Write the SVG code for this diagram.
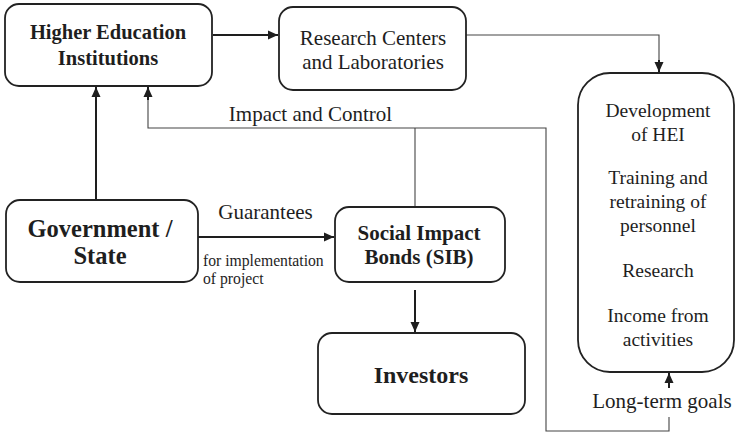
<svg xmlns="http://www.w3.org/2000/svg" width="736" height="434" viewBox="0 0 736 434">
  <style>
    .box { fill: #fff; stroke: #222; stroke-width: 1.8; }
    .t { font-family: "Liberation Serif", "Times New Roman", serif; fill: #1e1e1e; text-anchor: middle; }
    .s { text-anchor: start; }
    .b { font-weight: bold; }
    .thick { fill: none; stroke: #1e1e1e; stroke-width: 2; }
    .thin { fill: none; stroke: #444; stroke-width: 1.1; }
  </style>
  <defs>
    <marker id="arr" viewBox="0 0 10 10" refX="10" refY="5" markerWidth="10" markerHeight="10" markerUnits="userSpaceOnUse" orient="auto">
      <path d="M0,0.5 L10,5 L0,9.5 Z" fill="#1e1e1e"/>
    </marker>
  </defs>
  <rect width="736" height="434" fill="#fff"/>

  <g id="connectors">
    <line class="thick" x1="213" y1="35" x2="278" y2="35" marker-end="url(#arr)"/>
    <polyline class="thin" points="466,35 659,35 659,62"/>
    <line class="thick" x1="659" y1="60" x2="659" y2="72" marker-end="url(#arr)"/>
    <line class="thick" x1="96" y1="200" x2="96" y2="87" marker-end="url(#arr)"/>
    <polyline class="thin" points="669,417 669,431 546,431 546,128 148,128 148,98"/>
    <line class="thick" x1="148" y1="100" x2="148" y2="87" marker-end="url(#arr)"/>
    <line class="thin" x1="415" y1="207" x2="415" y2="128"/>
    <line class="thick" x1="198" y1="237" x2="334" y2="237" marker-end="url(#arr)"/>
    <line class="thick" x1="415" y1="290" x2="415" y2="332" marker-end="url(#arr)"/>
    <line class="thick" x1="669" y1="388" x2="669" y2="373" marker-end="url(#arr)"/>
    <text class="t" x="310.5" y="121" font-size="21">Impact and Control</text>
    <text class="t" x="265.5" y="219" font-size="21">Guarantees</text>
    <text class="t s" x="203" y="266" font-size="15.7">for implementation</text>
    <text class="t s" x="203" y="284" font-size="15.7">of project</text>
    <text class="t" x="662" y="408" font-size="21">Long-term goals</text>
  </g>

  <g id="hei">
    <rect class="box" x="5" y="4" width="207" height="82" rx="14"/>
    <text class="t b" x="108" y="39" font-size="20.5">Higher Education</text>
    <text class="t b" x="108" y="65" font-size="20.5">Institutions</text>
  </g>

  <g id="research">
    <rect class="box" x="279" y="7" width="187" height="83" rx="14"/>
    <text class="t" x="373" y="45" font-size="21">Research Centers</text>
    <text class="t" x="373" y="69" font-size="21">and Laboratories</text>
  </g>

  <g id="outcomes">
    <rect class="box" x="578" y="73" width="156" height="299" rx="32"/>
    <text class="t" x="658" y="117" font-size="19.5">Development</text>
    <text class="t" x="658" y="141" font-size="19.5">of HEI</text>
    <text class="t" x="658" y="184" font-size="19.5">Training and</text>
    <text class="t" x="658" y="208" font-size="19.5">retraining of</text>
    <text class="t" x="658" y="232" font-size="19.5">personnel</text>
    <text class="t" x="658" y="277" font-size="19.5">Research</text>
    <text class="t" x="658" y="322" font-size="19.5">Income from</text>
    <text class="t" x="658" y="346" font-size="19.5">activities</text>
  </g>

  <g id="government">
    <rect class="box" x="6" y="200" width="192" height="82" rx="14"/>
    <text class="t b" x="100" y="237" font-size="24.5">Government /</text>
    <text class="t b" x="100" y="264" font-size="24.5">State</text>
  </g>

  <g id="sib">
    <rect class="box" x="335" y="207" width="170" height="75" rx="14"/>
    <text class="t b" x="419" y="240" font-size="21">Social Impact</text>
    <text class="t b" x="419" y="264" font-size="21">Bonds (SIB)</text>
  </g>

  <g id="investors">
    <rect class="box" x="318" y="333" width="207" height="81" rx="14"/>
    <text class="t b" x="421" y="383" font-size="24">Investors</text>
  </g>
</svg>
